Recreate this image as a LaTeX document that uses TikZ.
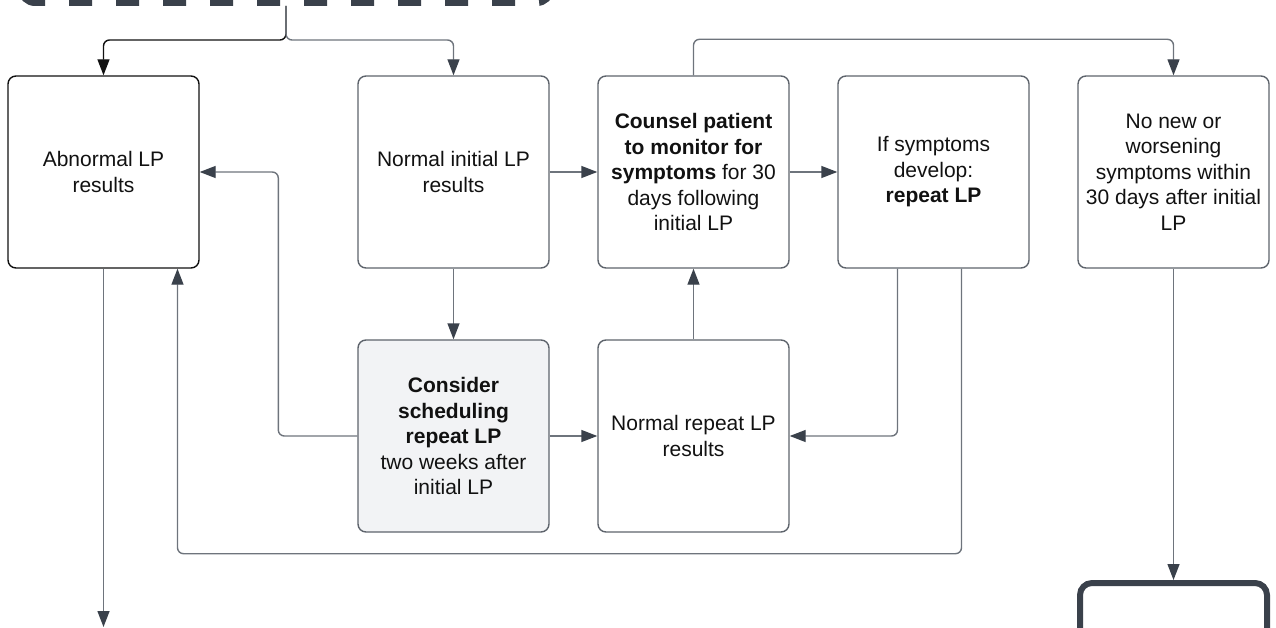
\documentclass[tikz,border=0pt]{standalone}
\usepackage{fontspec}
\setmainfont{Liberation Sans}
\usetikzlibrary{arrows.meta,positioning}
\definecolor{ink}{HTML}{111111}
\definecolor{wire}{HTML}{6E747C}
\definecolor{tipc}{HTML}{3A414B}
\definecolor{frame}{HTML}{5E646C}
\definecolor{shade}{HTML}{F2F3F5}
\tikzset{
  box/.style={draw=frame,line width=1.4pt,rounded corners=8pt,minimum width=191pt,minimum height=192pt,
    align=center,text=ink,inner sep=0pt,font=\fontsize{21}{25.5}\selectfont},
  shadebox/.style={box,fill=shade},
  dashbox/.style={draw=tipc,line width=6pt,dash pattern=on 23pt off 24pt,rounded corners=14pt,
    minimum width=530pt,minimum height=200pt},
  endbox/.style={draw=tipc,line width=6pt,rounded corners=12pt,minimum width=187pt,minimum height=200pt},
  link/.style={wire,line width=1.4pt,rounded corners=6pt,-{Triangle[length=16pt,width=12pt,color=tipc]}},
  blink/.style={link,ink,-{Triangle[length=16pt,width=12pt,color=ink]}},
}
\begin{document}
\begin{tikzpicture}[x=1pt,y=-1pt]
  \path[use as bounding box,clip] (0,0) rectangle (1276,628);
  \node[dashbox] (src) at (286,-97) {};
  \node[box,draw=ink] (abn) at (103.5,172) {Abnormal LP\\results};
  \node[box] (norm) at (453.5,172) {Normal initial LP\\results};
  \node[box] (couns) at (693.5,172) {\textbf{Counsel patient}\\\textbf{to monitor for}\\\textbf{symptoms} for 30\\days following\\initial LP};
  \node[box] (ifs) at (933.5,172) {If symptoms\\develop:\\\textbf{repeat LP}};
  \node[box] (nonew) at (1173.5,172) {No new or\\worsening\\symptoms within\\30 days after initial\\LP};
  \node[shadebox] (cons) at (453.5,436) {\textbf{Consider}\\\textbf{scheduling}\\\textbf{repeat LP}\\two weeks after\\initial LP};
  \node[box] (rep) at (693.5,436) {Normal repeat LP\\results};
  \node[endbox] (fin) at (1173.5,683) {};
  \coordinate (abnout) at (103.5,627);
  \draw[blink] (src.south) -- ++(0,34) -| (abn.north);
  \draw[link] (src.south) -- ++(0,34) -| (norm.north);
  \draw[link] (norm.east) -- (couns.west);
  \draw[link] (couns.east) -- (ifs.west);
  \draw[link] (couns.north) -- ++(0,-36) -| (nonew.north);
  \draw[link] (norm.south) -- (cons.north);
  \draw[link] (cons.east) -- (rep.west);
  \draw[link] (rep.north) -- (couns.south);
  \draw[link] (cons.west) -- ++(-79,0) |- (abn.east);
  \draw[link] ([xshift=-36pt]ifs.south) |- (rep.east);
  \draw[link] ([xshift=28pt]ifs.south) -- ++(0,285) -| ([xshift=74pt]abn.south);
  \draw[link] (abn.south) -- (abnout);
  \draw[link] (nonew.south) -- (fin.north);
\end{tikzpicture}
\end{document}
